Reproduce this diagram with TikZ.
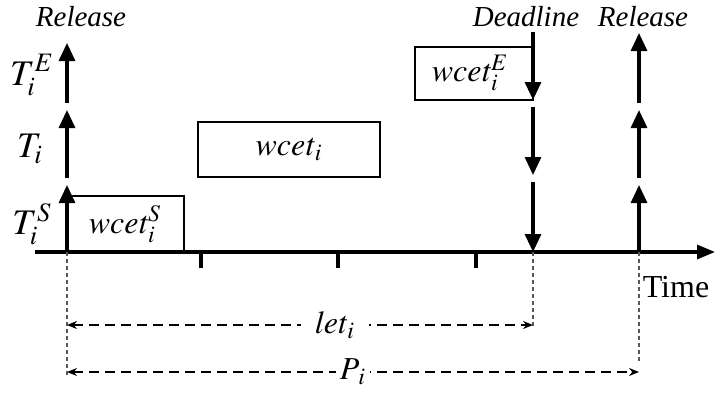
\documentclass[tikz,border=0pt]{standalone}
\usepackage{mathptmx}
\usepackage{fontspec}
\setmainfont{Liberation Serif}
\usetikzlibrary{arrows.meta, positioning}

\tikzset{
  evt/.style={line width=1.6pt, -{Triangle[length=9pt,width=8pt]}},
  job/.style={draw, line width=1.2pt, inner sep=0pt},
  guide/.style={gray!70!black, line width=0.6pt, dash pattern=on 2pt off 1.5pt},
  span/.style={line width=0.8pt, dash pattern=on 5pt off 3pt, {Stealth[length=5pt,width=4pt]}-{Stealth[length=5pt,width=4pt]}},
  lbl/.style={font=\fontsize{16}{19}\selectfont\itshape, inner sep=1pt},
  spanlbl/.style={lbl, fill=white, inner ysep=0pt},
  head/.style={font=\fontsize{14.5}{17}\selectfont\itshape, inner sep=1pt}
}

\begin{document}
\begin{tikzpicture}[x=0.5pt, y=0.5pt]
\useasboundingbox (0,0) rectangle (715,392);

% Time axis
\draw[line width=1.6pt, -{Triangle[length=9pt,width=7pt]}] (35,140) -- (715,140) coordinate (tend);
\foreach \x in {201,338,476}
  \draw[line width=1.6pt] (\x,140) -- (\x,124);
\node[font=\fontsize{16}{19}\selectfont] (time) at (676,105) {Time};

% Release / deadline instants
\coordinate (r0) at (67,140);
\coordinate (dl) at (533,140);
\coordinate (r1) at (639,140);

% Job release arrows
\foreach \xx/\top in {67/349, 639/359} {
  \draw[evt] (\xx,140) -- (\xx,207);
  \draw[evt] (\xx,214) -- (\xx,282);
  \draw[evt] (\xx,289) -- (\xx,\top);
}
% Deadline arrows
\draw[evt] (533,360) -- (533,292);
\draw[evt] (533,285) -- (533,217);
\draw[evt] (533,210) -- (dl);

% Execution boxes
\draw[job] (67,140) rectangle (184,196);
\node[lbl] (ws) at (125,168) {$\mathit{wcet}_i^S$};
\draw[job] (198,215) rectangle (380,270);
\node[lbl] (wi) at (289,243) {$\mathit{wcet}_i$};
\draw[job] (533,292) rectangle (415,345);
\node[lbl] (we) at (470,319) {$\mathit{wcet}_i^E$};

% Labels
\node[head] (rel0) at (81,375) {Release};
\node[head] (dead) at (526,375) {Deadline};
\node[head] (rel1) at (643,375) {Release};
\node[font=\fontsize{18}{20}\selectfont] (te) at (32,317) {$T_i^E$};
\node[font=\fontsize{18}{20}\selectfont] (ti) at (30,243) {$T_i$};
\node[font=\fontsize{18}{20}\selectfont] (ts) at (32,168) {$T_i^S$};

% Guide lines and spans
\draw[guide] (r0) -- (67,16);
\draw[guide] (dl) -- (533,66);
\draw[guide] (r1) -- (639,30);
\draw[span] (67,67) coordinate (a0) -- node[pos=0.575, spanlbl, inner xsep=7pt] (let) {$\mathit{let}_i$} (533,67) coordinate (a1);
\draw[span] (67,20) coordinate (b0) -- node[spanlbl, inner xsep=2pt] (per) {$P_{\kern1.5pt i}$} (639,20) coordinate (b1);

\end{tikzpicture}
\end{document}
